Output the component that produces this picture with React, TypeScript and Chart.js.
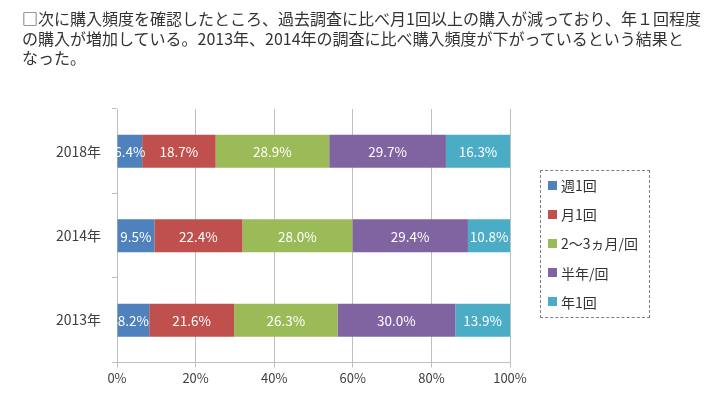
import React, { useEffect, useRef } from "react";
import { Chart, registerables } from "chart.js";

Chart.register(...registerables);

const titleLines = [
  "□次に購入頻度を確認したところ、過去調査に比べ月1回以上の購入が減っており、年１回程度",
  "の購入が増加している。2013年、2014年の調査に比べ購入頻度が下がっているという結果と",
  "なった。",
];
const categories = ["2018年", "2014年", "2013年"];
const seriesNames = ["週1回", "月1回", "2～3ヵ月/回", "半年/回", "年1回"];
const weekly = [6.4, 9.5, 8.2];
const monthly = [18.7, 22.4, 21.6];
const bimonthly = [28.9, 28.0, 26.3];
const halfYear = [29.7, 29.4, 30.0];
const yearly = [16.3, 10.8, 13.9];
const xTicks = [0, 20, 40, 60, 80, 100];
const colors = ["#4F81BD", "#C0504D", "#9BBB59", "#8064A2", "#4BACC6"];

const FONT = "'Noto Sans CJK JP', 'Noto Sans', sans-serif";

const labelPlugin = {
  id: "segLabels",
  afterDatasetsDraw(chart: any) {
    const ctx = chart.ctx;
    const area = chart.chartArea;
    ctx.save();
    ctx.beginPath();
    ctx.rect(area.left, area.top, area.right - area.left, area.bottom - area.top);
    ctx.clip();
    ctx.fillStyle = "#ffffff";
    ctx.font = `13.5px ${FONT}`;
    ctx.textAlign = "center";
    ctx.textBaseline = "middle";
    chart.data.datasets.forEach((ds: any, i: number) => {
      const meta = chart.getDatasetMeta(i);
      meta.data.forEach((bar: any, j: number) => {
        const v = ds.data[j];
        const cx = (bar.x + bar.base) / 2;
        ctx.fillText(v.toFixed(1) + "%", cx, bar.y + 1);
      });
    });
    ctx.restore();
  },
};

export default function App() {
  const ref = useRef<HTMLCanvasElement | null>(null);
  useEffect(() => {
    const all = [weekly, monthly, bimonthly, halfYear, yearly];
    const chart = new Chart(ref.current as HTMLCanvasElement, {
      type: "bar",
      data: {
        labels: categories,
        datasets: all.map((d, i) => ({
          label: seriesNames[i],
          data: d,
          backgroundColor: colors[i],
          borderWidth: 0,
          barPercentage: 0.39,
          categoryPercentage: 1,
        })),
      },
      options: {
        indexAxis: "y",
        animation: false,
        responsive: false,
        maintainAspectRatio: false,
        layout: { padding: { left: 30, right: 211, top: 109, bottom: 6 } },
        plugins: { legend: { display: false }, tooltip: { enabled: false } },
        scales: {
          x: {
            stacked: true,
            min: 0,
            max: 100,
            afterBuildTicks: (s: any) => {
              s.ticks = xTicks.map((v) => ({ value: v }));
            },
            ticks: {
              callback: (v: any) => v + "%",
              color: "#404040",
              font: { size: 13, family: FONT },
              padding: 3,
              maxRotation: 0,
            },
            grid: { color: "#BFBFBF", tickLength: 5, drawTicks: true },
            border: { color: "#BFBFBF" },
          },
          y: {
            stacked: true,
            afterFit: (s: any) => {
              s.width = 87;
            },
            ticks: {
              color: "#404040",
              font: { size: 14, family: FONT },
              padding: 11,
            },
            grid: {
              offset: true,
              drawOnChartArea: false,
              color: "#BFBFBF",
              tickLength: 5,
            },
            border: { color: "#BFBFBF" },
          },
        },
      },
      plugins: [labelPlugin],
    });
    return () => chart.destroy();
  }, []);

  return (
    <div style={{ position: "fixed", left: 0, top: 0, width: 721, height: 395, background: "#fff" }}>
      <canvas ref={ref} width={721} height={395} style={{ position: "absolute", left: 0, top: 0 }} />
      <div
        style={{
          position: "absolute",
          left: 22,
          top: 9,
          fontFamily: FONT,
          fontSize: 16,
          lineHeight: "19.5px",
          color: "#333",
          whiteSpace: "nowrap",
        }}
      >
        {titleLines.map((t, i) => (
          <div key={i}>{t}</div>
        ))}
      </div>
      <div
        style={{
          position: "absolute",
          left: 540,
          top: 170,
          width: 108,
          height: 146,
          border: "1px dashed #808080",
          fontFamily: FONT,
          fontSize: 14,
          color: "#333",
        }}
      >
        {seriesNames.map((n, i) => (
          <div
            key={i}
            style={{ position: "absolute", left: 7, top: 4 + i * 29.2, height: 20, display: "flex", alignItems: "center" }}
          >
            <span style={{ display: "inline-block", width: 9, height: 9, background: colors[i], marginRight: 4 }} />
            <span>{n}</span>
          </div>
        ))}
      </div>
    </div>
  );
}
